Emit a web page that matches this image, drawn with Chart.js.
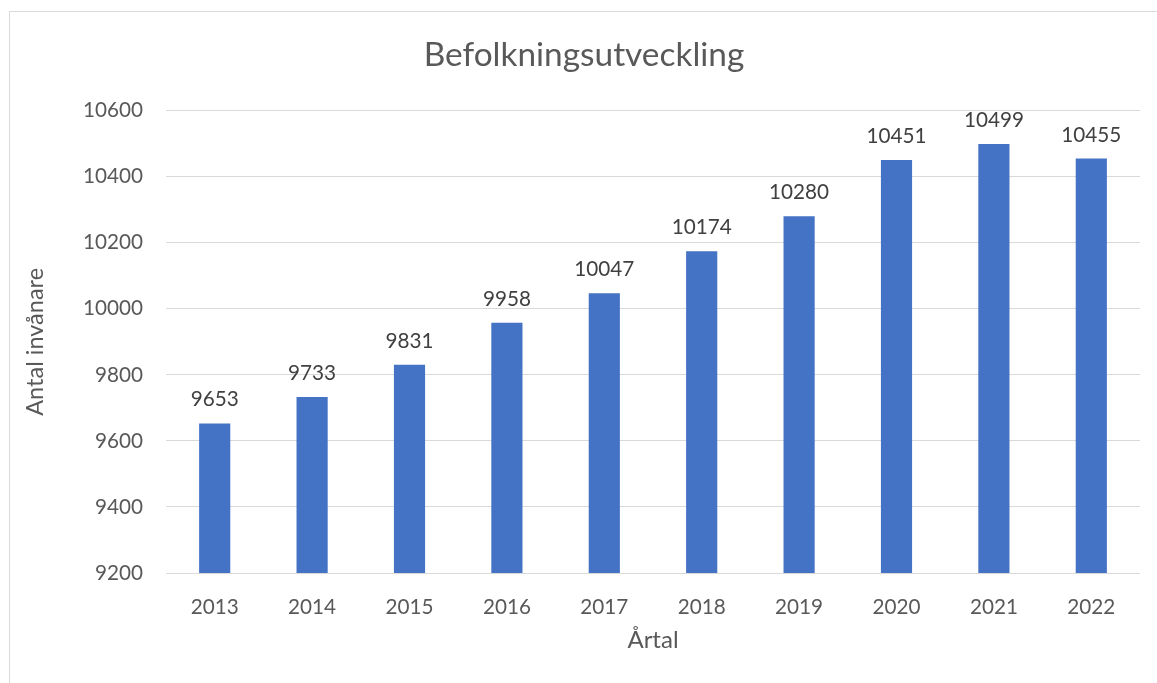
<!DOCTYPE html>
<html>
<head>
<meta charset="utf-8">
<script src="https://cdn.jsdelivr.net/npm/chart.js@4/dist/chart.umd.min.js"></script>
<style>
  html, body { margin: 0; padding: 0; background: #ffffff; overflow: hidden; width: 1157px; height: 683px; }
  #box { position: absolute; left: 9px; top: 11px; border-left: 1px solid #d9d9d9; border-top: 1px solid #d9d9d9; width: 1150px; height: 671px; }
  canvas { display: block; }
</style>
</head>
<body>
<div id="box"><canvas id="c" width="1150" height="671"></canvas></div>
<script>
const categories = ['2013', '2014', '2015', '2016', '2017', '2018', '2019', '2020', '2021', '2022'];
const population = [9653, 9733, 9831, 9958, 10047, 10174, 10280, 10451, 10499, 10455];
const yMin = 9200;
const yMax = 10600;
const yStep = 200;
const chartTitle = 'Befolkningsutveckling';
const yTitle = 'Antal invånare';
const xTitle = 'Årtal';

Chart.defaults.font.family = 'Lato';

const dataLabels = {
  id: 'dataLabels',
  afterDatasetsDraw(chart) {
    const ctx = chart.ctx;
    const meta = chart.getDatasetMeta(0);
    const vals = chart.data.datasets[0].data;
    ctx.save();
    ctx.font = '20.7px Lato';
    ctx.fillStyle = '#404040';
    ctx.textAlign = 'center';
    ctx.textBaseline = 'alphabetic';
    meta.data.forEach((el, i) => {
      ctx.fillText(String(vals[i]), el.x, el.y - 17);
    });
    ctx.restore();
  }
};

new Chart(document.getElementById('c'), {
  type: 'bar',
  data: {
    labels: categories,
    datasets: [{
      data: population,
      backgroundColor: '#4472C4',
      borderWidth: 0,
      categoryPercentage: 1.0,
      barPercentage: 0.32
    }]
  },
  options: {
    responsive: false,
    animation: false,
    layout: { padding: { left: 18, right: 20, top: 0, bottom: 0 } },
    plugins: {
      legend: { display: false },
      tooltip: { enabled: false },
      title: {
        display: true,
        text: chartTitle,
        color: '#595959',
        font: { size: 33.4, weight: 'normal', family: 'Lato' },
        padding: { top: 23.5, bottom: 35.1 }
      }
    },
    scales: {
      x: {
        grid: { display: false },
        border: { display: false },
        ticks: { color: '#595959', font: { size: 20.7 }, padding: 14, maxRotation: 0 },
        title: { display: true, text: xTitle, color: '#595959', font: { size: 24 }, padding: { top: 0, bottom: 28 } },
        afterFit(scale) { scale.height = 110; }
      },
      y: {
        min: yMin,
        max: yMax,
        ticks: { stepSize: yStep, color: '#595959', font: { size: 20.7 }, padding: 23, callback: (v) => String(v) },
        grid: { color: '#d9d9d9', lineWidth: 1, drawTicks: false },
        border: { display: false },
        title: { display: true, text: yTitle, color: '#595959', font: { size: 23.5 }, padding: { top: -7, bottom: 0 } },
        afterFit(scale) { scale.width = 138; }
      }
    }
  },
  plugins: [dataLabels]
});
</script>
</body>
</html>
